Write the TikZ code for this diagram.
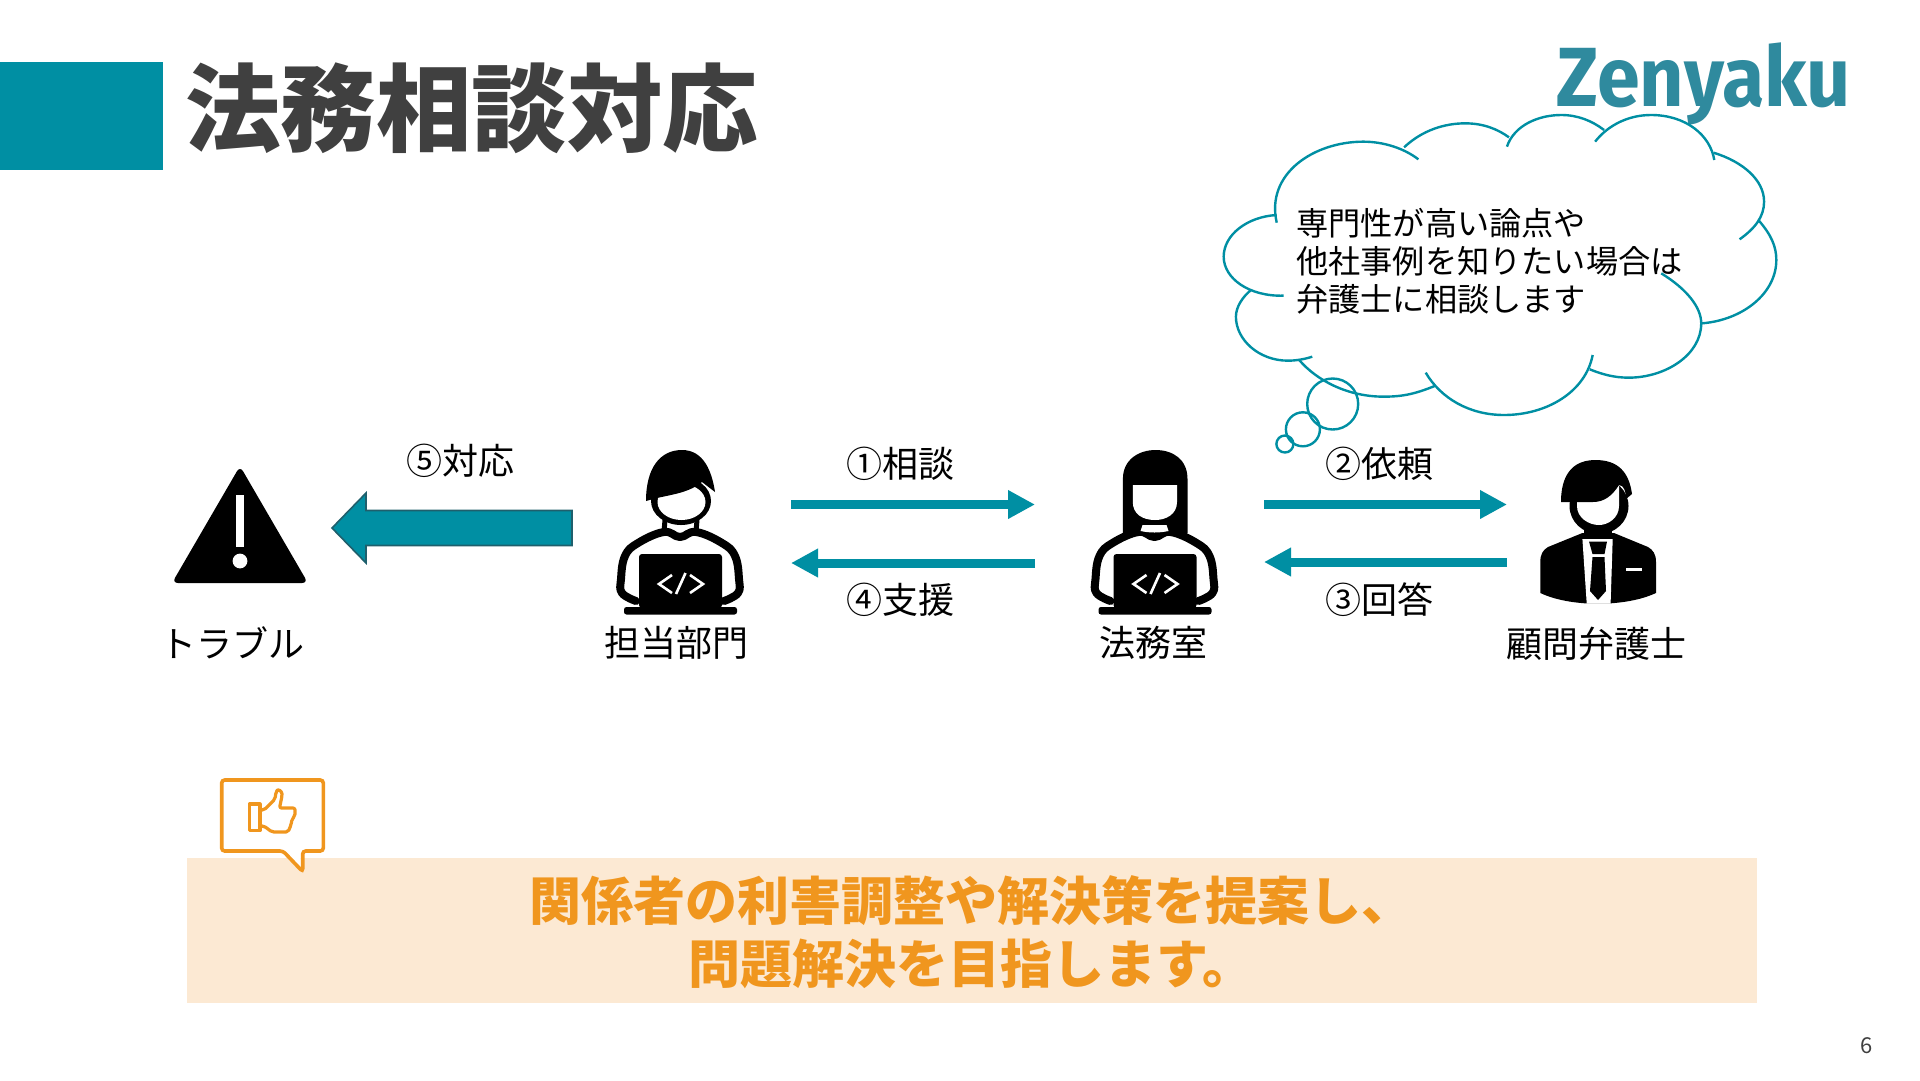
\documentclass[tikz,border=0pt]{standalone}
\usepackage{fontspec}
\setmainfont{Noto Sans CJK JP}
\newfontfamily\logofont{Fira Sans}
\usetikzlibrary{arrows.meta,calc}

\definecolor{zteal}{HTML}{008FA3}
\definecolor{zdeep}{HTML}{1F5F6C}
\definecolor{zlogo}{HTML}{2F8A9E}
\definecolor{ztitle}{HTML}{404040}
\definecolor{zorange}{HTML}{F0961E}
\definecolor{zpeach}{HTML}{FCE9D3}

\tikzset{
  coderbody/.pic={
    \draw[black,line width=8pt,line cap=round,line join=round] plot[smooth,tension=.7] coordinates
      {(-44,67) (-58,59) (-59,45) (-55,22) (-42,9) (-16,-2) (0,3) (16,-2) (42,9) (55,22) (59,45) (58,59) (44,67)};
    \fill[black,rounded corners=3pt] (-41,20) rectangle (42,74);
    \fill[black,rounded corners=2.5pt] (-56,73) rectangle (57,80.5);
    \draw[white,line width=2.6pt] (-8,41) -- (-21,50) -- (-8,59);
    \draw[white,line width=2.6pt] (5.5,39) -- (-4,60);
    \draw[white,line width=2.6pt] (10,41) -- (23,50) -- (10,59);
  },
  boyhead/.pic={
    \draw[black,line width=5pt] (-15,-14) -- (-16,-2) (17,-14) -- (16,-2);
    \fill[black] (1,-33) ellipse [x radius=30pt,y radius=24pt];
    \fill[white] (1.5,-32) ellipse [x radius=24pt,y radius=18pt];
    \fill[black] (-34,-33) .. controls (-34,-66) and (-20,-84) .. (2,-84)
      .. controls (24,-84) and (32,-62) .. (35,-42) -- (22,-52)
      .. controls (10,-42) and (-5,-40) .. (-23,-36) -- cycle;
  },
  girlhead/.pic={
    \fill[black] (-31.6,-1) -- (-31.6,-55) .. controls (-31.6,-75) and (-15,-84) .. (1,-84)
      .. controls (18,-84) and (33,-75) .. (33,-55) -- (33,-1) -- cycle;
    \fill[white] (-21.7,-49) -- (22.5,-49) -- (22.5,-32) .. controls (22.5,-20) and (12,-14) .. (0.5,-14)
      .. controls (-12,-14) and (-21.7,-20) .. (-21.7,-32) -- cycle;
    \fill[white] (-12,-9) -- (12,-9) -- (14,-3) .. controls (5,-1) and (-5,-1) .. (-14,-3) -- cycle;
  },
  lawyer/.pic={
    \fill[black] (-14,-14) rectangle (14,4);
    \fill[black] (1,-28) ellipse [x radius=29.5pt,y radius=28pt];
    \fill[white] (-21,-32) -- (21,-49) -- (21,-28) .. controls (21,-16) and (10,-9) .. (1,-9)
      .. controls (-9,-9) and (-21,-16) .. (-21,-28) -- cycle;
    \fill[black] (-37,-32) .. controls (-37,-48) and (-33,-74) .. (-2.6,-74)
      .. controls (20,-74) and (31,-62) .. (34,-40) -- (28,-35)
      .. controls (28,-42) and (26,-49) .. (21,-49) .. controls (14,-38) and (6,-32) .. (-5,-32) -- cycle;
    \fill[black] (-15.6,-1) -- (-50,13) .. controls (-55,16) and (-57.7,20) .. (-57.7,28) -- (-57.7,59)
      .. controls (-45,65) and (-30,68) .. (-13.4,69.3) -- (13,69.3)
      .. controls (30,68) and (45,65) .. (58,59) -- (58,28) .. controls (58,20) and (55,16) .. (50,13) -- (16,-1) -- cycle;
    \fill[white] (-15.6,5) -- (14.7,5) -- (12.6,69.5) -- (-11.3,69.5) -- cycle;
    \fill[black] (-9,7.5) -- (9,7.5) -- (6.5,20) -- (-5.5,20) -- cycle;
    \fill[black] (-5.5,23) -- (6.5,23) -- (8,57) -- (0,66) -- (-8,57) -- cycle;
    \fill[white] (27.7,33.7) rectangle (43.8,37);
  },
  thumbup/.pic={
    \draw[zorange,line width=3.2pt,line join=round] (249.3,804) rectangle (260,830.7);
    \draw[zorange,line width=3.2pt,line join=round,rounded corners=2pt] (260,810) -- (264,810) -- (275,799)
      -- (276,792) .. controls (278,789) and (282,791) .. (282,796) -- (279.5,808) -- (295,808)
      -- (295,816) -- (292,819) -- (291,825) -- (288,832) -- (272,832) -- (264,826) -- (260,826);
  },
  iconbox/.style={minimum height=140pt,inner sep=0pt,outer sep=0pt},
  cloudline/.style={zteal,line width=2.4pt},
  flow/.style={zteal,line width=9pt,-{Triangle[length=27pt,width=27pt]}},
  bigflow/.style={fill=zteal,draw=zdeep,line width=1.6pt,line join=miter},
  namelabel/.style={text=black,font=\fontsize{36}{40}\selectfont},
  flowlabel/.style={text=black,font=\fontsize{36}{40}\selectfont}
}

\begin{document}
\begin{tikzpicture}[x=1pt,y=-1pt]

  \useasboundingbox (0,0) rectangle (1920,1080);

  % header
  \fill[zteal] (0,62) rectangle (163,170);
  \node (title) [text=ztitle,font=\fontsize{95.5}{100}\selectfont\bfseries,anchor=west,inner sep=0pt] at (185,108) {法務相談対応};
  \node (logo) [text=zlogo,font=\logofont\fontsize{84}{86}\selectfont\bfseries,anchor=east,xscale=0.92,inner sep=0pt] at (1851,84) {Zenyaku};

  % who is who
  \node (trouble) [iconbox,minimum width=184pt] at (240,534) {};
  \node (tanto) [iconbox,minimum width=219pt] at (681.5,534) {};
  \node (houmu) [iconbox,minimum width=229pt] at (1149.5,534) {};
  \node (komon) [iconbox,minimum width=182pt] at (1598,534) {};

  \fill[black,rounded corners=6pt] (240,466) -- (308,583) -- (172,583) -- cycle;
  \fill[white] (235.5,495) rectangle (244.4,547);
  \fill[white] (240,561) circle (7.4pt);
  \pic at ([xshift=-1.5pt]tanto.center) {coderbody};
  \pic at ([xshift=-1.5pt]tanto.center) {boyhead};
  \pic at ([xshift=5pt]houmu.center) {coderbody};
  \pic at ([xshift=5pt]houmu.center) {girlhead};
  \pic at (komon.center) {lawyer};

  \node (troubleName) [namelabel] at (232.5,643) {トラブル};
  \node (tantoName) [namelabel] at (676,643) {担当部門};
  \node (houmuName) [namelabel] at (1153,643) {法務室};
  \node (komonName) [namelabel] at (1596,644) {顧問弁護士};

  % flows
  \draw[flow] ([yshift=29.5pt]tanto.east) -- ([yshift=29.5pt]houmu.west);
  \draw[flow] ([yshift=-29pt]houmu.west) -- ([yshift=-29pt]tanto.east);
  \draw[flow] ([yshift=29.5pt]houmu.east) -- ([yshift=29.5pt]komon.west);
  \draw[flow] ([yshift=-28pt]komon.west) -- ([yshift=-28pt]houmu.east);
  \coordinate (taiouTail) at ([yshift=6pt]tanto.west);
  \coordinate (taiouTip) at ([yshift=6pt]trouble.east);
  \draw[bigflow] (taiouTip) -- ++(34,-35) -- ++(0,17.5) -- ($(taiouTail)+(0,-17.5)$)
    -- ($(taiouTail)+(0,17.5)$) -- ($(taiouTip)+(34,17.5)$) -- ++(0,17.5) -- cycle;

  \node (taiouLabel) [flowlabel] at (460,461) {⑤対応};
  \node (soudanLabel) [flowlabel] at (900,464) {①相談};
  \node (shienLabel) [flowlabel] at (900,600) {④支援};
  \node (iraiLabel) [flowlabel] at (1379,464) {②依頼};
  \node (kaitouLabel) [flowlabel] at (1379,600) {③回答};

  % thought cloud
  \begin{scope}[shift={(1200,30)},x=0.40816pt,y=-0.33333pt]
    \draw[cloudline] (188,578) .. controls (160,430) and (280,335) .. (400,335) .. controls (450,335) and (500,355) .. (535,388);
    \draw[cloudline] (500,352) .. controls (545,300) and (600,280) .. (650,280) .. controls (695,280) and (730,298) .. (757,322);
    \draw[cloudline] (752,350) .. controls (770,285) and (830,255) .. (885,255) .. controls (925,255) and (960,272) .. (990,300);
    \draw[cloudline] (968,335) .. controls (1000,285) and (1050,255) .. (1105,255) .. controls (1190,255) and (1250,315) .. (1260,390);
    \draw[cloudline] (1258,368) .. controls (1330,395) and (1382,450) .. (1382,515) .. controls (1382,560) and (1360,595) .. (1322,628);
    \draw[cloudline] (1368,570) .. controls (1400,615) and (1412,650) .. (1412,690) .. controls (1412,790) and (1330,870) .. (1230,880);
    \draw[cloudline] (1130,730) .. controls (1190,775) and (1228,830) .. (1228,880) .. controls (1228,975) and (1140,1043) .. (1050,1043) .. controls (1015,1043) and (985,1033) .. (955,1018);
    \draw[cloudline] (962,975) .. controls (945,1085) and (850,1155) .. (745,1155) .. controls (660,1155) and (590,1105) .. (553,1028);
    \draw[cloudline] (575,1068) .. controls (530,1090) and (500,1100) .. (450,1100) .. controls (360,1100) and (285,1050) .. (243,990);
    \draw[cloudline] (275,980) .. controls (255,988) and (235,992) .. (215,992) .. controls (145,992) and (88,930) .. (88,860) .. controls (88,830) and (105,800) .. (125,780);
    \draw[cloudline] (205,797) .. controls (120,800) and (58,745) .. (58,680) .. controls (58,615) and (115,560) .. (188,555);
  \end{scope}
  \draw[cloudline] (1332.7,404) circle (25.5pt);
  \draw[cloudline] (1302.9,429.3) circle (17pt);
  \draw[cloudline] (1284.9,444) circle (8.5pt);
  \node (cloudText) [text=black,font=\fontsize{32.2}{38}\selectfont,align=left,anchor=west,inner sep=0pt] at (1296,261) {専門性が高い論点や\\他社事例を知りたい場合は\\弁護士に相談します};

  % conclusion
  \fill[zpeach] (186.5,858) rectangle (1757,1003);
  \fill[white] (282,851) -- (302.7,871) -- (299.3,851) -- cycle;
  \draw[zorange,line width=3.6pt,rounded corners=3pt,line join=miter] (283,851) -- (302.7,871.7) -- (302.7,851) -- (323.3,851) -- (323.3,780) -- (221.7,780) -- (221.7,851) -- cycle;
  \pic at (0,0) {thumbup};
  \node (advice) [text=zorange,font=\fontsize{52}{63}\selectfont\bfseries,align=center] at (971.5,932) {関係者の利害調整や解決策を提案し、\\問題解決を目指します。};

  \node (pageNo) [text=ztitle,font=\fontsize{22}{24}\selectfont] at (1867,1046) {6};

\end{tikzpicture}
\end{document}
